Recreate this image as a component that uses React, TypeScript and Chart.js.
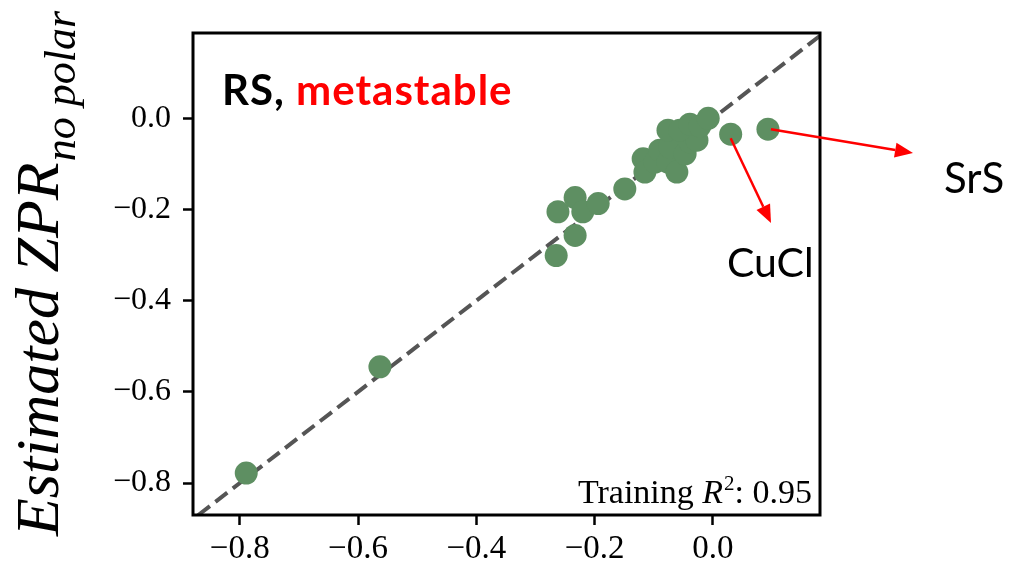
import React, { useEffect, useRef } from "react";
import { Chart, registerables } from "chart.js";

Chart.register(...registerables);

// Data
const trueZPR = [
  -0.789, -0.563, -0.265, -0.233, -0.262, -0.233, -0.220, -0.194, -0.149,
  -0.118, -0.115, -0.098, -0.090, -0.076, -0.073, -0.061, -0.047, -0.039,
  -0.027, -0.076, -0.056, -0.039, -0.022, -0.008, 0.030, 0.093,
];
const estZPR = [
  -0.778, -0.545, -0.301, -0.257, -0.205, -0.174, -0.205, -0.187, -0.155,
  -0.089, -0.118, -0.096, -0.070, -0.096, -0.063, -0.118, -0.078, -0.052,
  -0.048, -0.026, -0.026, -0.013, -0.017, 0.0, -0.035, -0.024,
];
const tickValues = [-0.8, -0.6, -0.4, -0.2, 0.0];
const diagLine = [-0.9, 0.2];
const labelledPoints = [
  { name: "CuCl", index: 24 },
  { name: "SrS", index: 25 },
];
const r2Text = "0.95";

const W = 1010;
const H = 572;

function fmt(v: number) {
  const s = Math.abs(v).toFixed(1);
  return v < -1e-9 ? "\u2212" + s : s;
}

function arrow(ctx: CanvasRenderingContext2D, x1: number, y1: number, x2: number, y2: number) {
  const ang = Math.atan2(y2 - y1, x2 - x1);
  const hl = 18;
  const hw = 7.5;
  const bx = x2 - hl * Math.cos(ang);
  const by = y2 - hl * Math.sin(ang);
  ctx.save();
  ctx.strokeStyle = "#ff0000";
  ctx.fillStyle = "#ff0000";
  ctx.lineWidth = 2.5;
  ctx.beginPath();
  ctx.moveTo(x1, y1);
  ctx.lineTo(bx, by);
  ctx.stroke();
  ctx.beginPath();
  ctx.moveTo(x2, y2);
  ctx.lineTo(bx + hw * Math.sin(ang), by - hw * Math.cos(ang));
  ctx.lineTo(bx - hw * Math.sin(ang), by + hw * Math.cos(ang));
  ctx.closePath();
  ctx.fill();
  ctx.restore();
}

const decorPlugin = {
  id: "decor",
  afterDraw(chart: any) {
    const { ctx, chartArea: a, scales } = chart;
    const xs = scales.x;
    const ys = scales.y;
    ctx.save();
    // frame
    ctx.strokeStyle = "#000";
    ctx.lineWidth = 3;
    ctx.strokeRect(a.left, a.top, a.right - a.left, a.bottom - a.top);

    // title inside
    ctx.textBaseline = "alphabetic";
    ctx.textAlign = "left";
    ctx.font = "bold 42px Lato";
    (ctx as any).letterSpacing = "1px";
    ctx.fillStyle = "#000";
    const t1 = "RS, ";
    ctx.fillText(t1, 222, 105);
    const w1 = ctx.measureText(t1).width;
    ctx.fillStyle = "#ff0000";
    ctx.fillText("metastable", 222 + w1, 105);
    (ctx as any).letterSpacing = "0px";

    // training R2
    ctx.fillStyle = "#000";
    const fs = 34;
    ctx.font = `${fs}px 'Liberation Serif'`;
    const p3 = ": " + r2Text;
    const w3 = ctx.measureText(p3).width;
    ctx.font = `21px 'Liberation Serif'`;
    const wsup = ctx.measureText("2").width;
    ctx.font = `italic ${fs}px 'Liberation Serif'`;
    const wR = ctx.measureText("R").width;
    ctx.font = `${fs}px 'Liberation Serif'`;
    const p1 = "Training ";
    const w1b = ctx.measureText(p1).width;
    const endX = a.right - 8;
    let x = endX - (w1b + wR + wsup + 1 + w3);
    const by = a.bottom - 12;
    ctx.fillText(p1, x, by);
    x += w1b;
    ctx.font = `italic ${fs}px 'Liberation Serif'`;
    ctx.fillText("R", x, by);
    x += wR;
    ctx.font = `21px 'Liberation Serif'`;
    ctx.fillText("2", x + 1, by - 13);
    x += wsup + 1;
    ctx.font = `${fs}px 'Liberation Serif'`;
    ctx.fillText(p3, x, by);

    // y-axis title, rotated
    ctx.save();
    ctx.translate(58, 536);
    ctx.rotate(-Math.PI / 2);
    ctx.font = "italic 62px 'Liberation Serif'";
    ctx.textAlign = "left";
    const mainT = "Estimated ZPR";
    ctx.fillText(mainT, 0, 0);
    const wm = ctx.measureText(mainT).width;
    ctx.font = "italic 44px 'Liberation Serif'";
    ctx.fillText("no polar", wm + 1, 17);
    ctx.restore();

    // annotations
    const cu = labelledPoints[0];
    const sr = labelledPoints[1];
    const cux = xs.getPixelForValue(trueZPR[cu.index]);
    const cuy = ys.getPixelForValue(estZPR[cu.index]);
    const srx = xs.getPixelForValue(trueZPR[sr.index]);
    const sry = ys.getPixelForValue(estZPR[sr.index]);
    arrow(ctx, cux, cuy + 4, 771, 223);
    arrow(ctx, srx + 3, sry, 913, 153);
    ctx.fillStyle = "#000";
    ctx.textAlign = "left";
    ctx.font = "41px Lato";
    ctx.fillText(cu.name, 727, 277);
    ctx.font = "42px Lato";
    ctx.fillText(sr.name, 944, 193);
    ctx.restore();
  },
};

export default function App() {
  const ref = useRef<HTMLCanvasElement | null>(null);
  useEffect(() => {
    document.body.style.margin = "0";
    const canvas = ref.current!;
    const pts = trueZPR.map((v, i) => ({ x: v, y: estZPR[i] }));
    const setTicks = (scale: any) => {
      scale.ticks = tickValues.map((v) => ({ value: v }));
    };
    const chart = new Chart(canvas, {
      type: "scatter",
      data: {
        datasets: [
          {
            type: "line",
            data: diagLine.map((v) => ({ x: v, y: v })),
            borderColor: "#555555",
            borderWidth: 4,
            borderDash: [15, 7],
            pointRadius: 0,
            fill: false,
            order: 2,
          } as any,
          {
            data: pts,
            backgroundColor: "#5e8f62",
            borderWidth: 0,
            pointRadius: 11.5,
            pointHoverRadius: 11.5,
            order: 1,
          },
        ],
      },
      options: {
        animation: false,
        responsive: false,
        events: [],
        layout: { padding: { top: 33, right: W - 820, left: 0, bottom: 0 } },
        plugins: { legend: { display: false }, tooltip: { enabled: false } },
        scales: {
          x: {
            type: "linear",
            min: -0.879,
            max: 0.181,
            afterBuildTicks: setTicks,
            afterFit: (s: any) => {
              s.height = H - 515;
            },
            border: { display: false },
            grid: {
              display: true,
              drawOnChartArea: false,
              drawTicks: true,
              tickLength: 10,
              tickWidth: 2.5,
              tickColor: "#000",
            },
            ticks: {
              color: "#000",
              padding: 5,
              font: { family: "'Liberation Serif'", size: 33 },
              callback: (v: any) => fmt(Number(v)),
              maxRotation: 0,
              autoSkip: false,
            },
          },
          y: {
            type: "linear",
            min: -0.87,
            max: 0.187,
            afterBuildTicks: setTicks,
            afterFit: (s: any) => {
              s.width = 193;
            },
            border: { display: false },
            grid: {
              display: true,
              drawOnChartArea: false,
              drawTicks: true,
              tickLength: 10,
              tickWidth: 2.5,
              tickColor: "#000",
            },
            ticks: {
              color: "#000",
              padding: 12,
              font: { family: "'Liberation Serif'", size: 32 },
              callback: (v: any) => fmt(Number(v)),
              autoSkip: false,
            },
          },
        },
      },
      plugins: [decorPlugin],
    });
    return () => chart.destroy();
  }, []);
  return <canvas ref={ref} width={W} height={H} style={{ display: "block" }} />;
}
